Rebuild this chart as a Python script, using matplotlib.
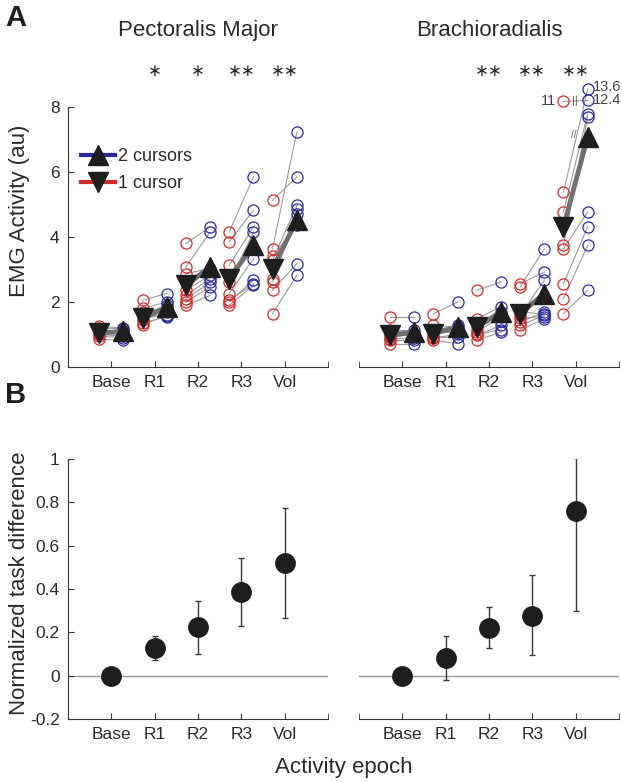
import matplotlib
matplotlib.use("Agg")
import matplotlib.pyplot as plt
from matplotlib.lines import Line2D
import numpy as np

plt.rcParams['font.family'] = ['Liberation Sans', 'DejaVu Sans']

epochs = ['Base', 'R1', 'R2', 'R3', 'Vol']

# ---- Panel A data (per subject, per epoch) ----
pec_one = [
    [1.25, 1.2, 1.15, 1.05, 1.0, 0.95, 0.85, 1.1],
    [2.05, 1.8, 1.7, 1.5, 1.35, 1.3, 1.45, 1.6],
    [3.8, 3.08, 2.87, 2.36, 2.2, 2.0, 1.9, 2.1],
    [4.15, 3.85, 3.13, 2.26, 2.0, 1.9, 2.05, 2.6],
    [5.13, 3.64, 3.28, 2.72, 2.62, 2.36, 1.64, 3.4],
]
pec_two = [
    [1.2, 1.18, 1.1, 1.0, 0.95, 0.9, 0.82, 1.05],
    [2.26, 2.0, 1.8, 1.6, 1.55, 1.58, 1.7, 1.9],
    [4.31, 4.15, 3.03, 2.82, 2.72, 2.46, 2.2, 2.6],
    [5.85, 4.82, 4.31, 3.33, 2.67, 2.51, 2.55, 4.15],
    [5.85, 7.23, 4.97, 4.87, 4.72, 3.18, 2.82, 4.36],
]
bra_one = [
    [1.54, 1.13, 0.92, 0.82, 0.72, 1.0, 0.85, 1.1],
    [1.64, 1.28, 1.08, 0.92, 0.82, 1.0, 0.9, 1.1],
    [2.36, 1.49, 1.18, 1.08, 0.97, 0.82, 1.0, 1.3],
    [2.56, 2.46, 1.59, 1.38, 1.28, 1.13, 1.5, 1.7],
    [11.0, 5.38, 4.77, 3.74, 3.64, 2.56, 2.1, 1.64],
]
bra_two = [
    [1.54, 1.13, 1.0, 0.82, 0.72, 0.95, 0.9, 1.05],
    [2.0, 1.23, 1.08, 0.92, 0.72, 1.15, 1.0, 1.3],
    [2.62, 1.85, 1.69, 1.54, 1.28, 1.08, 1.15, 1.4],
    [2.92, 3.64, 2.67, 1.69, 1.59, 1.49, 1.55, 1.62],
    [12.4, 13.6, 7.79, 7.69, 4.77, 4.31, 3.74, 2.36],
]
# off-scale values and the height where they are drawn (broken axis)
broken_values = [11.0, 12.4, 13.6]
broken_display = [8.17, 8.2, 8.55]

pec_one_mean = [1.04, 1.5, 2.51, 2.72, 3.03]
pec_two_mean = [1.1, 1.85, 3.08, 3.74, 4.51]
bra_one_mean = [0.97, 1.03, 1.23, 1.64, 4.31]
bra_two_mean = [1.08, 1.23, 1.69, 2.26, 7.08]

pec_sig = ['', '\u2217', '\u2217', '\u2217\u2217', '\u2217\u2217']
bra_sig = ['', '', '\u2217\u2217', '\u2217\u2217', '\u2217\u2217']

# ---- Panel B data ----
pec_diff = [0.0, 0.128, 0.223, 0.385, 0.518]
pec_lo = [0.0, 0.074, 0.102, 0.228, 0.267]
pec_hi = [0.0, 0.182, 0.344, 0.541, 0.772]
bra_diff = [0.0, 0.082, 0.222, 0.277, 0.761]
bra_lo = [0.0, -0.018, 0.128, 0.094, 0.299]
bra_hi = [0.0, 0.182, 0.317, 0.464, 1.003]

RED = '#d42a2a'
BLUE = '#2a2a9e'
TXT = '#2a2a2a'
AX = '#333333'

fig = plt.figure(figsize=(6.22, 7.82), dpi=100)
W = 0.418
H = 0.3325
axA1 = fig.add_axes([0.1093, 0.5307, W, H])
axA2 = fig.add_axes([0.5770, 0.5307, W, H])
axB1 = fig.add_axes([0.1093, 0.0806, W, H])
axB2 = fig.add_axes([0.5770, 0.0806, W, H])

xpos = np.arange(1, 6)
off = 0.28


def disp(v):
    if v in broken_values:
        return broken_display[broken_values.index(v)]
    return v


def style(ax, show_y):
    ax.set_xlim(0, 6)
    ax.set_xticks(xpos)
    ax.set_xticklabels(epochs)
    ax.set_xticks([0, 6], minor=True)
    for s in ['top', 'right']:
        ax.spines[s].set_visible(False)
    ax.spines['bottom'].set_color(AX)
    ax.spines['left'].set_color(AX)
    ax.tick_params(which='both', direction='in', length=4, colors=AX,
                   labelcolor=TXT, labelsize=12.5, pad=6)
    if not show_y:
        ax.spines['left'].set_visible(False)
        ax.tick_params(axis='y', which='both', left=False, labelleft=False)


def panelA(ax, one, two, m1, m2, sig, title, show_y):
    style(ax, show_y)
    ax.set_ylim(0, 8)
    ax.set_yticks([0, 2, 4, 6, 8])
    for i in range(5):
        x1 = xpos[i] - off
        x2 = xpos[i] + off
        for a, b in zip(one[i], two[i]):
            ax.plot([x1, x2], [disp(a), disp(b)], color='#9a9a9a', lw=0.8,
                    zorder=1, clip_on=False)
        ax.plot([x1] * len(one[i]), [disp(v) for v in one[i]], 'o', mfc='none',
                mec=RED, ms=8, mew=0.9, zorder=2, clip_on=False)
        ax.plot([x2] * len(two[i]), [disp(v) for v in two[i]], 'o', mfc='none',
                mec=BLUE, ms=8, mew=0.9, zorder=2, clip_on=False)
        ax.plot([x1, x2], [m1[i], m2[i]], color='#707070', lw=3.5, zorder=3)
        ax.plot([x1], [m1[i]], 'v', color='#1e1e1e', ms=15, zorder=4)
        ax.plot([x2], [m2[i]], '^', color='#1e1e1e', ms=15, zorder=4)
        if sig[i]:
            ax.text(xpos[i], 9.1, sig[i], ha='center', va='center',
                    fontsize=12, color=TXT, clip_on=False,
                    family=['DejaVu Sans'])
    ax.set_title(title, fontsize=16, color=TXT, pad=51)


panelA(axA1, pec_one, pec_two, pec_one_mean, pec_two_mean, pec_sig,
       'Pectoralis Major', True)
panelA(axA2, bra_one, bra_two, bra_one_mean, bra_two_mean, bra_sig,
       'Brachioradialis', False)
axA1.set_ylabel('EMG Activity (au)', fontsize=16, color=TXT)
axA1.yaxis.set_label_coords(-0.145, 0.6)

# broken-axis annotations
xv1 = xpos[4] - off
xv2 = xpos[4] + off
axA2.text(xv1 - 0.18, broken_display[0], '11', ha='right', va='center',
          fontsize=10.5, color='#444444', clip_on=False)
axA2.text(xv2 + 0.12, broken_display[1], '12.4', ha='left', va='center',
          fontsize=10.5, color='#444444', clip_on=False)
axA2.text(xv2 + 0.12, broken_display[2] + 0.05, '13.6', ha='left', va='center',
          fontsize=10.5, color='#444444', clip_on=False)
axA2.text(xpos[4] - 0.02, (broken_display[0] + broken_display[1]) / 2, '||',
          ha='center', va='center', fontsize=8, color='#555555', clip_on=False)
axA2.text(xpos[4] - 0.05, 7.15, '//', ha='center', va='center', fontsize=7,
          color='#555555', clip_on=False)

# legend
h2 = Line2D([], [], color=BLUE, lw=3, marker='^', mfc='#1e1e1e',
            mec='#1e1e1e', ms=15)
h1 = Line2D([], [], color=RED, lw=3, marker='v', mfc='#1e1e1e',
            mec='#1e1e1e', ms=15)
leg = axA1.legend([h2, h1], ['2 cursors', '1 cursor'], loc='upper left',
                  bbox_to_anchor=(0.0, 0.89), frameon=False, fontsize=13,
                  handlelength=1.9, handletextpad=0.15, labelspacing=0.55,
                  borderaxespad=0.3)
for t in leg.get_texts():
    t.set_color(TXT)


def panelB(ax, d, lo, hi, show_y):
    style(ax, show_y)
    ax.set_ylim(-0.2, 1)
    ax.set_yticks([-0.2, 0, 0.2, 0.4, 0.6, 0.8, 1])
    ax.set_yticklabels(['-0.2', '0', '0.2', '0.4', '0.6', '0.8', '1'])
    ax.axhline(0, color='#9a9a9a', lw=1.0, zorder=1)
    d = np.array(d)
    err = np.vstack([d - np.array(lo), np.array(hi) - d])
    ax.errorbar(xpos[1:], d[1:], yerr=err[:, 1:], fmt='none', ecolor='#3a3a3a',
                elinewidth=1.0, capsize=2.5, capthick=1.0, zorder=2)
    ax.plot(xpos, d, 'o', color='#1e1e1e', ms=14, zorder=3)


panelB(axB1, pec_diff, pec_lo, pec_hi, True)
panelB(axB2, bra_diff, bra_lo, bra_hi, False)
axB1.set_ylabel('Normalized task difference', fontsize=16, color=TXT)
axB1.yaxis.set_label_coords(-0.145, 0.523)

fig.text(0.553, 0.019, 'Activity epoch', ha='center', va='center',
         fontsize=16, color=TXT)
fig.text(0.008, 0.977, 'A', fontsize=21, fontweight='bold', color='#1e1e1e',
         va='center', ha='left')
fig.text(0.008, 0.495, 'B', fontsize=21, fontweight='bold', color='#1e1e1e',
         va='center', ha='left')

fig.savefig('out.png', dpi=100)
